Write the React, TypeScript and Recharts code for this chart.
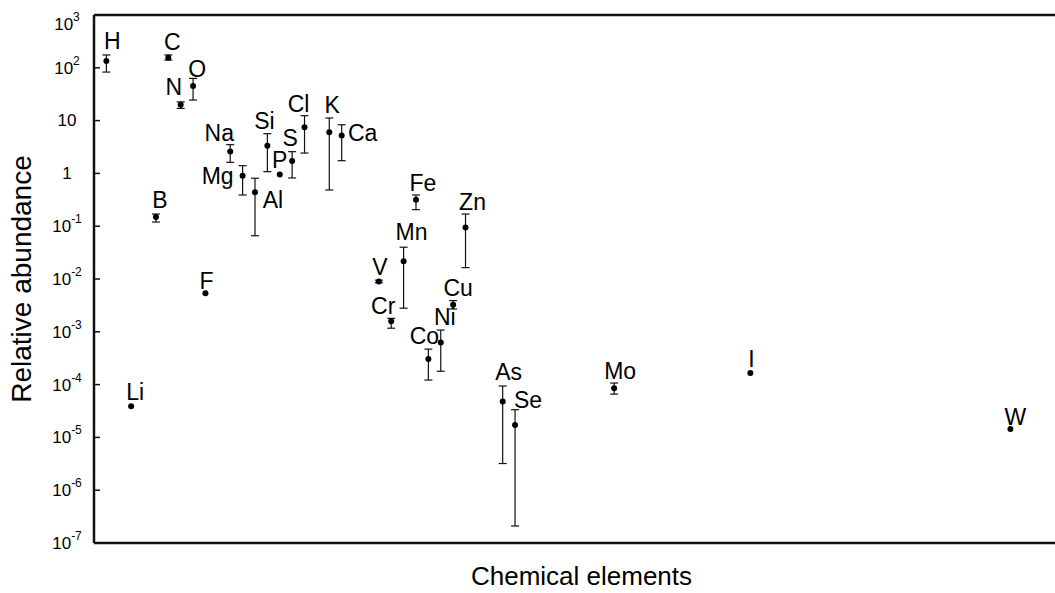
import { ScatterChart, Scatter, XAxis, YAxis, ErrorBar, ReferenceLine } from 'recharts';

// elements, atomic number (x position) and relative abundance
const elements = ['H', 'Li', 'B', 'C', 'N', 'O', 'F', 'Na', 'Mg', 'Al', 'Si', 'P', 'S', 'Cl', 'K', 'Ca', 'V', 'Cr', 'Mn', 'Fe', 'Co', 'Ni', 'Cu', 'Zn', 'As', 'Se', 'Mo', 'I', 'W'];
const atomicNumbers = [1, 3, 5, 6, 7, 8, 9, 11, 12, 13, 14, 15, 16, 17, 19, 20, 23, 24, 25, 26, 27, 28, 29, 30, 33, 34, 42, 53, 74];
const abundance = [135, 3.9e-5, 0.15, 155, 20, 45, 0.0054, 2.6, 0.9, 0.44, 3.35, 0.95, 1.72, 7.5, 6.0, 5.2, 0.009, 0.00158, 0.0216, 0.318, 0.000306, 0.00063, 0.00327, 0.095, 4.8e-5, 1.72e-5, 8.5e-5, 1.66e-4, 1.45e-5];
// lower / upper ends of the error bars (null = no bar)
const errLow = [83, null, 0.12, 140, 17, 24.5, null, 1.62, 0.39, 0.066, 1.08, null, 0.82, 2.43, 0.485, 1.74, 0.0085, 0.00117, 0.0028, 0.206, 0.000122, 0.000179, 0.0027, 0.0164, 3.2e-6, 2.1e-7, 6.6e-5, null, null];
const errHigh = [175, null, 0.17, 175, 22.6, 63, null, 3.5, 1.4, 0.81, 5.65, null, 2.58, 12.4, 11.2, 8.35, 0.0095, 0.0018, 0.04, 0.39, 0.00047, 0.00108, 0.0039, 0.17, 9.4e-5, 3.35e-5, 1.07e-4, null, null];
const yTicks = [1e-7, 1e-6, 1e-5, 1e-4, 1e-3, 1e-2, 1e-1, 1, 10, 100, 1000];

// where each element label sits relative to its dot (px)
const labelOffset: Record<string, [number, number]> = {
  H: [6, -20], Li: [4, -14], B: [4, -17], C: [4, -16], N: [-7, -18], O: [4, -17], F: [1, -12],
  Na: [-11, -18], Mg: [-25, 0], Al: [18, 8], Si: [-3, -25], P: [0, -15], S: [-2, -23],
  Cl: [-6, -23], K: [3, -27], Ca: [21, -3], V: [1, -14], Cr: [-8, -15], Mn: [8, -29],
  Fe: [7, -17], Co: [-4, -23], Ni: [4, -25], Cu: [5, -17], Zn: [7, -25], As: [6, -29],
  Se: [13, -25], Mo: [6, -17], I: [1, -14], W: [5, -12],
};

const FONT = '"Liberation Sans", Arial, sans-serif';

const points = elements.map((name, i) => ({
  name,
  z: atomicNumbers[i],
  v: abundance[i],
  err: errLow[i] != null ? [abundance[i] - (errLow[i] as number), (errHigh[i] as number) - abundance[i]] : null,
}));
const withErr = points.filter(p => p.err);
const noErr = points.filter(p => !p.err);

const Dot = (props: any) => {
  const { cx, cy, payload } = props;
  const [dx, dy] = labelOffset[payload.name] || [0, -16];
  return (
    <g>
      <circle cx={cx} cy={cy} r={3} fill="#000" />
      <text x={cx + dx} y={cy + dy} textAnchor="middle" dominantBaseline="central" fontSize={23} fontFamily={FONT} fill="#000">
        {payload.name}
      </text>
    </g>
  );
};

const YTick = (props: any) => {
  const { x, y, payload } = props;
  const e = Math.round(Math.log10(payload.value));
  const ty = e === 3 ? y + 9 : y;
  return (
    <g>
      {e > -7 && e < 3 && <line x1={x + 27} x2={x + 33} y1={y} y2={y} stroke="#111" strokeWidth={1.5} />}
      <text x={x} y={ty} textAnchor="middle" dominantBaseline="central" fontSize={17} fontFamily={FONT} fill="#000">
        {e === 0 ? '1' : e === 1 ? '10' : (
          <>
            <tspan>10</tspan>
            <tspan dy={-7} fontSize={12}>{e}</tspan>
          </>
        )}
      </text>
    </g>
  );
};

export default function App() {
  return (
    <div style={{ position: 'absolute', left: 0, top: 0, width: 1055, height: 593, background: '#fff' }}>
      <ScatterChart width={1055} height={593} margin={{ top: 15, right: 0, bottom: 0, left: 0 }}>
        <XAxis
          type="number"
          dataKey="z"
          domain={[0, 77.6]}
          allowDataOverflow
          tick={false}
          tickLine={false}
          height={50}
          axisLine={{ stroke: '#111', strokeWidth: 2.5 }}
          label={{ value: 'Chemical elements', position: 'insideBottom', offset: 8, dx: 7, fontSize: 26, fontFamily: FONT, fill: '#000' }}
        />
        <YAxis
          type="number"
          dataKey="v"
          scale="log"
          domain={[1e-7, 1000]}
          allowDataOverflow
          ticks={yTicks}
          interval={0}
          width={94}
          tickSize={0}
          tickMargin={27}
          tick={<YTick />}
          axisLine={{ stroke: '#111', strokeWidth: 2.5 }}
          label={{ value: 'Relative abundance', angle: -90, position: 'insideLeft', offset: 21, fontSize: 28, fontFamily: FONT, fill: '#000', style: { textAnchor: 'middle' } }}
        />
        <ReferenceLine y={1000} stroke="#111" strokeWidth={2.5} />
        <Scatter data={withErr} shape={<Dot />} isAnimationActive={false}>
          <ErrorBar dataKey="err" direction="y" width={4} stroke="#111" strokeWidth={1.2} />
        </Scatter>
        <Scatter data={noErr} shape={<Dot />} isAnimationActive={false} />
      </ScatterChart>
    </div>
  );
}
